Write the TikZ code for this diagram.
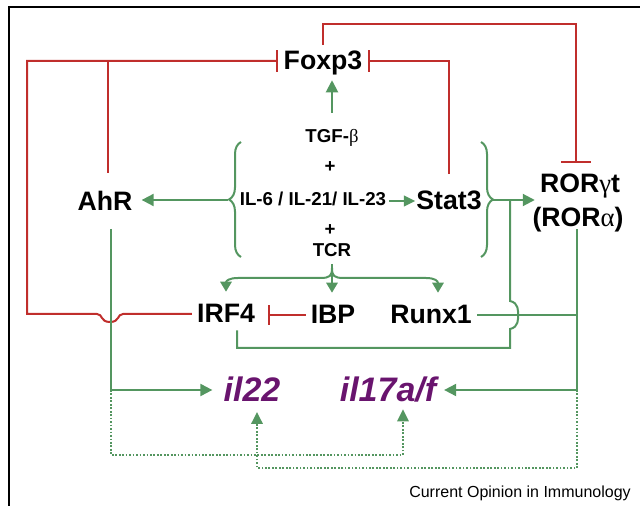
\documentclass[tikz,border=0pt]{standalone}
\usepackage{fontspec}
\setmainfont{Liberation Sans}
\newfontfamily\grk{Liberation Serif}
\usetikzlibrary{arrows.meta,decorations.pathreplacing,calc}
\definecolor{inhred}{RGB}{192,46,44}
\definecolor{actgreen}{RGB}{84,150,96}
\definecolor{genepurple}{RGB}{105,20,110}
\newcommand{\gk}[1]{{\grk\mdseries #1}}
\begin{document}
\begin{tikzpicture}[x=0.75pt,y=-0.75pt,
  big/.style={font=\bfseries\fontsize{20}{24}\selectfont, text height=15pt, text depth=1.5pt, inner sep=3.75pt, anchor=base},
  small/.style={font=\bfseries\fontsize{14}{17}\selectfont, text height=10.5pt, text depth=3pt, inner sep=2pt, anchor=base},
  gene/.style={font=\bfseries\itshape\fontsize{25.5}{30}\selectfont, text=genepurple, text height=19pt, text depth=1.5pt, inner sep=3.75pt, anchor=base},
  gline/.style={draw=actgreen, line width=1.5pt},
  act/.style={gline, -{Triangle[length=9pt,width=9pt]}},
  tcract/.style={gline, -{Triangle[length=7.5pt,width=8.5pt]}},
  rline/.style={draw=inhred, line width=1.5pt},
  inh/.style={rline, -{Bar[width=16pt]}},
  dotl/.style={draw=actgreen, line width=1.6pt, dash pattern=on 1.3pt off 1.3pt, -{Triangle[length=9pt,width=8.5pt]}},
  brc/.style={gline, decorate, decoration={brace, amplitude=9pt}}
]
\useasboundingbox (0,0) rectangle (640,506);
% frame
\draw[line width=1.5pt] (9,506) -- (9,7) -- (640,7);

% nodes
\node[big] (foxp3) at (323,70) {Foxp3};
\node[big] (ahr) at (105,211) {AhR};
\node[big] (stat3) at (449,210) {Stat3};
\node[big] (ror1) at (580,193) {ROR\gk{γ}t};
\node[big, inner sep=0pt] (ror2) at (578,227) {(ROR\gk{α})};
\node[big] (irf4) at (226,323) {IRF4};
\node[big] (ibp) at (333,324) {IBP};
\node[big] (runx1) at (431,324) {Runx1};
\node[small] (tgf) at (332,143) {TGF-\gk{β}};
\node[small] (plus1) at (330,173) {+};
\node[small] (il6) at (313,206) {IL-6 / IL-21/ IL-23};
\node[small] (plus2) at (330,236) {+};
\node[small] (tcr) at (332,257) {TCR};
\node[gene] (il22) at (252,402) {il22};
\node[gene] (il17) at (388,402) {il17a/f};
\node[font=\fontsize{12}{14}\selectfont, anchor=base, inner sep=0pt] (src) at (520,497) {Current Opinion in Immunology};

% junctions and corners
\coordinate (jA) at (108,61);
\coordinate (cBL) at (27,314);
\coordinate (cTR) at (576,24);
\coordinate (bL) at (228,200);
\coordinate (bR) at (493,200);
\coordinate (cI) at (237,348);
\coordinate (cJ) at (510,348);
\coordinate (cK) at (510,200);
\coordinate (cR) at (577,315);
\coordinate (cRB) at (577,390);
\coordinate (cAB) at (111,390);
\coordinate (cD1) at (403,455);
\coordinate (cD2) at (257,468);
\coordinate (cT) at (332,268);

% braces
\draw[brc] (241,257) -- (241,142);
\draw[brc] (481,142) -- (481,257);

% red inhibitions
\draw[inh] (irf4.west) -- (123,314) .. controls (117,314) and (120,322) .. (110,322)
  .. controls (100,322) and (103,314) .. (97,314) -- (cBL) |- (foxp3.west);
\draw[rline, shorten <=9.75pt] (ahr.north -| jA) -- (jA);
\draw[inh, shorten <=8pt] (stat3.north) |- (foxp3.east);
\draw[inh, -{Bar[width=22pt]}, shorten >=3.75pt] (foxp3.north) |- (cTR) -- (ror1.north -| cTR);
\draw[inh, -{Bar[width=15pt]}, shorten >=6pt] (ibp.west) -- (ibp.west -| irf4.east);

% green activations
\draw[act, shorten <=10pt, shorten >=2.25pt] (tgf.north) -- (tgf.north |- foxp3.south);
\draw[act, -{Triangle[length=8.5pt,width=8pt]}, shorten >=-3pt] (il6.east) -- (il6.east -| stat3.west);
\draw[act, shorten >=3pt] (bL) -- (ahr.east |- bL);
\draw[act] (bR) -- (ror1.west |- bR);
\draw[gline] (irf4.south -| cI) -- (cI) -- (cJ) -- (510,329)
  .. controls (519,327) and (518,319) .. (518,315)
  .. controls (518,311) and (519,303) .. (510,301) -- (cK);
\draw[gline] (runx1.east) -- (cR);
\draw[act, shorten >=2pt] (ror2.south -| cR) -- (cRB) -- (il17.east |- cRB);
\draw[act, shorten <=8pt, shorten >=4.5pt] (ahr.south -| cAB) -- (cAB) -- (il22.west |- cAB);

% TCR branches
\draw[tcract, shorten >=4.5pt] (tcr.south) -- (tcr.south |- ibp.north);
\draw[tcract, shorten >=4.5pt] (cT) .. controls (332,276) and (330,278) .. (320,278) -- (238,278)
  .. controls (229,278) and (226,281) .. (irf4.north);
\draw[tcract, shorten >=4.5pt] (cT) .. controls (332,276) and (334,278) .. (344,278) -- (426,278)
  .. controls (435,278) and (438,281) .. ($(runx1.north)+(7,0)$);

% dotted regulation
\draw[dotl] (cAB) |- (cD1) -- (il17.south -| cD1);
\draw[dotl, shorten >=2pt] (cRB) |- (cD2) -- (il22.south -| cD2);
\end{tikzpicture}
\end{document}
